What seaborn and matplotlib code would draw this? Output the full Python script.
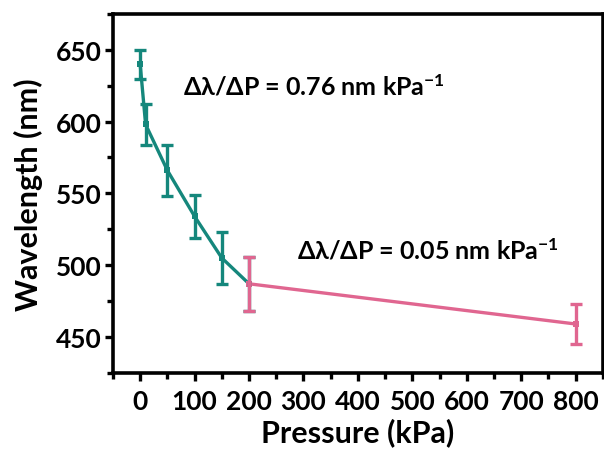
import matplotlib
matplotlib.use("Agg")
import matplotlib.pyplot as plt
from matplotlib.ticker import MultipleLocator
import seaborn as sns
import pandas as pd

# Data
pressure_low = [0, 10, 50, 100, 150, 200]
wavelength_low = [640, 598, 566, 534, 505, 487]
err_low = [10, 14, 17.5, 15, 18, 19]

pressure_high = [200, 800]
wavelength_high = [487, 459]
err_high = [19, 14]

x_ticks = [0, 100, 200, 300, 400, 500, 600, 700, 800]
y_ticks = [450, 500, 550, 600, 650]
ann_low = "Δλ/ΔP = 0.76 nm kPa$^{-1}$"
ann_high = "Δλ/ΔP = 0.05 nm kPa$^{-1}$"

teal = "#15877c"
pink = "#e06690"

sns.set_theme(style="ticks")
plt.rcParams['font.family'] = ['Lato', 'Open Sans', 'DejaVu Sans']
plt.rcParams['font.weight'] = 'bold'
plt.rcParams['text.color'] = 'black'
plt.rcParams['axes.labelcolor'] = 'black'
plt.rcParams['xtick.color'] = 'black'
plt.rcParams['ytick.color'] = 'black'
plt.rcParams['mathtext.fontset'] = 'custom'
plt.rcParams['mathtext.rm'] = 'Lato:bold'
plt.rcParams['mathtext.default'] = 'rm'

fig = plt.figure(figsize=(6.04, 4.52), dpi=100)
ax = fig.add_axes([0.187, 0.173, 0.811, 0.794])

df_low = pd.DataFrame({"P": pressure_low, "W": wavelength_low})
df_high = pd.DataFrame({"P": pressure_high, "W": wavelength_high})

sns.lineplot(data=df_low, x="P", y="W", ax=ax, color=teal, lw=2.4,
             marker="s", markersize=5, markeredgewidth=0)
sns.lineplot(data=df_high, x="P", y="W", ax=ax, color=pink, lw=2.4,
             marker="s", markersize=5, markeredgewidth=0)
ax.errorbar(pressure_low, wavelength_low, yerr=err_low, fmt="none",
            ecolor=teal, elinewidth=2.4, capsize=4.5, capthick=2.4)
ax.errorbar(pressure_high, wavelength_high, yerr=err_high, fmt="none",
            ecolor=pink, elinewidth=2.4, capsize=4.5, capthick=2.4)

ax.set_xlim(-50, 850)
ax.set_ylim(425, 675)
ax.set_xticks(x_ticks)
ax.set_yticks(y_ticks)
ax.xaxis.set_minor_locator(MultipleLocator(50))
ax.yaxis.set_minor_locator(MultipleLocator(25))
ax.tick_params(axis="both", which="major", direction="out", length=6, width=2.4,
               labelsize=19, color="black", labelcolor="black", pad=2)
ax.tick_params(axis="x", which="major", pad=6)
ax.tick_params(axis="both", which="minor", direction="out", length=4, width=2.4,
               color="black")
ax.tick_params(top=False, right=False, which="both")
for lab in ax.get_xticklabels() + ax.get_yticklabels():
    lab.set_fontweight("bold")
for sp in ax.spines.values():
    sp.set_linewidth(2.6)
    sp.set_color("black")

ax.set_xlabel("Pressure (kPa)", fontsize=22, fontweight="bold", labelpad=3)
ax.set_ylabel("Wavelength (nm)", fontsize=22, fontweight="bold", labelpad=9)

ax.text(79, 625, ann_low, fontsize=18, fontweight="bold", va="center", ha="left")
ax.text(289, 511, ann_high, fontsize=18, fontweight="bold", va="center", ha="left")

fig.savefig("out.png", dpi=100)
